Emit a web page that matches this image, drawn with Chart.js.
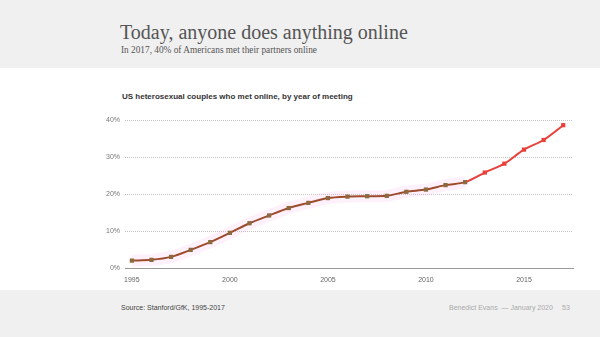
<!DOCTYPE html>
<html>
<head>
<meta charset="utf-8">
<script src="https://cdn.jsdelivr.net/npm/chart.js@4.4.1/dist/chart.umd.min.js"></script>
<style>
    html, body { margin: 0; padding: 0; }
    body { width: 600px; height: 337px; position: relative; background: #fff; overflow: hidden; font-family: "Liberation Sans", Arial, sans-serif; }
    .header { position: absolute; left: 0; top: 0; width: 600px; height: 68px; background: #f0f0f0; }
    .footer { position: absolute; left: 0; top: 290px; width: 600px; height: 47px; background: #f0f0f0; }
    .title { position: absolute; left: 120px; top: 21px; font-family: "Liberation Serif", serif; font-size: 20px; color: #555; white-space: nowrap; }
    .subtitle { position: absolute; left: 121px; top: 45px; font-family: "Liberation Serif", serif; font-size: 9.3px; color: #555; white-space: nowrap; }
    .chart-title { position: absolute; left: 122px; top: 92px; font-size: 8px; font-weight: bold; color: #333; white-space: nowrap; }
    .source { position: absolute; left: 121px; top: 304px; font-size: 7px; color: #444; white-space: nowrap; }
    .credit { position: absolute; left: 449px; top: 304px; font-size: 7px; color: #aaa; white-space: nowrap; }
    .page { position: absolute; left: 562px; top: 304px; font-size: 7px; color: #aaa; }
    #chartWrap { position: absolute; left: 0; top: 68px; width: 600px; height: 222px; }
</style>
</head>
<body>
<div class="header"></div>
<div class="footer"></div>
<div class="title">Today, anyone does anything online</div>
<div class="subtitle">In 2017, 40% of Americans met their partners online</div>
<div class="chart-title">US heterosexual couples who met online, by year of meeting</div>
<div id="chartWrap"><canvas id="onlineChart"></canvas></div>
<div class="source">Source: Stanford/GfK, 1995-2017</div>
<div class="credit">Benedict Evans &nbsp;— January 2020</div>
<div class="page">53</div>

<script>
// Share of couples who met online, by year of meeting (%)
const years = [1995, 1996, 1997, 1998, 1999, 2000, 2001, 2002, 2003, 2004, 2005, 2006,
    2007, 2008, 2009, 2010, 2011, 2012, 2013, 2014, 2015, 2016, 2017];
const metOnline = [2.0, 2.2, 3.0, 4.9, 7.0, 9.5, 12.1, 14.2, 16.2, 17.6, 18.9, 19.3,
    19.4, 19.5, 20.6, 21.2, 22.4, 23.2, 25.8, 28.2, 32.0, 34.6, 38.6];
const yTicks = [0, 10, 20, 30, 40];
const xTicks = [1995, 2000, 2005, 2010, 2015];

const lastBrownIndex = 17; // 2012
const brownLine = '#9e4b2b';
const brownMarker = '#8a6a3e';
const redColor = '#e8403a';

const points = years.map((y, i) => ({ x: y, y: metOnline[i] }));
const glowPoints = points.slice(0, lastBrownIndex + 1);

const tickFont = { family: 'Liberation Sans, Arial, sans-serif', size: 7 };

new Chart(document.getElementById('onlineChart'), {
    type: 'line',
    data: {
        datasets: [{
            data: points,
            borderWidth: 2,
            tension: 0.3,
            pointStyle: 'rect',
            pointRadius: 3,
            pointBorderWidth: 0,
            pointBackgroundColor: ctx => ctx.dataIndex > lastBrownIndex ? redColor : brownMarker,
            segment: {
                borderColor: ctx => ctx.p0DataIndex >= lastBrownIndex ? redColor : brownLine
            },
            borderColor: brownLine,
            order: 1
        }, {
            // soft pink highlight behind the early part of the line
            data: glowPoints,
            borderColor: 'rgba(255, 140, 230, 0.12)',
            borderWidth: 12,
            tension: 0.3,
            pointRadius: 0,
            order: 2
        }]
    },
    options: {
        responsive: true,
        maintainAspectRatio: false,
        animation: false,
        layout: { padding: { left: 95, right: 27, top: 52, bottom: 0 } },
        plugins: {
            legend: { display: false },
            tooltip: { enabled: false }
        },
        scales: {
            x: {
                type: 'linear',
                min: 1994.65,
                max: 2017.5,
                afterFit: scale => { scale.height = 22; },
                afterBuildTicks: scale => { scale.ticks = xTicks.map(v => ({ value: v })); },
                grid: { display: false },
                border: { display: true, color: '#999', width: 1 },
                ticks: {
                    color: '#666',
                    font: tickFont,
                    padding: 0,
                    maxRotation: 0,
                    callback: v => String(v)
                }
            },
            y: {
                min: 0,
                max: 40,
                afterFit: scale => { scale.width = 30; },
                afterBuildTicks: scale => { scale.ticks = yTicks.map(v => ({ value: v })); },
                border: { display: false, dash: [1, 1] },
                grid: {
                    color: '#c4c4c4',
                    lineWidth: 1,
                    drawTicks: false
                },
                ticks: {
                    color: '#777',
                    font: tickFont,
                    padding: 5,
                    callback: v => v + '%'
                }
            }
        }
    }
});
</script>
</body>
</html>
